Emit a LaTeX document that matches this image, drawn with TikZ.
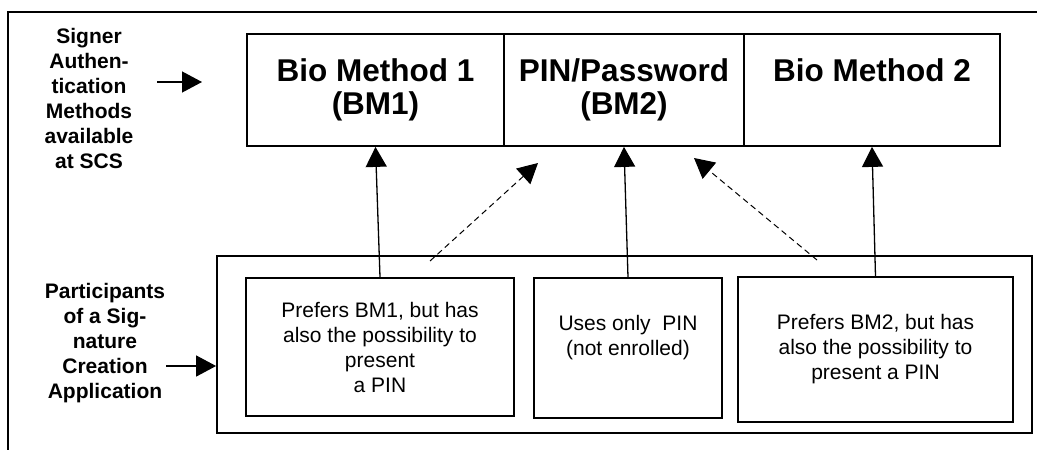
\documentclass[tikz,border=0pt]{standalone}
\usepackage{fontspec}
\setmainfont{Liberation Sans}
\usetikzlibrary{arrows.meta}
\begin{document}
\begin{tikzpicture}[x=1pt,y=-1pt]

\tikzstyle{frame}=[line width=1.8pt]
\tikzstyle{box}=[draw,line width=1.8pt,inner sep=0pt,align=center]
\tikzstyle{method}=[box,minimum height=112pt,font=\bfseries\fontsize{31.5}{33}\selectfont]
\tikzstyle{user}=[box,font=\fontsize{21}{25}\selectfont]
\tikzstyle{caption}=[align=center,font=\bfseries\fontsize{21}{25}\selectfont]
\tikzstyle{edge}=[-{Triangle[length=20pt,width=21pt]},line width=1.3pt]
\tikzstyle{option}=[edge,line width=1pt,dash pattern=on 6pt off 4pt]

\useasboundingbox(0,0)rectangle(1037,450);
\draw[frame](1037,12)--(8,12)--(8,450);

% methods at the SCS
\node[method,minimum width=257pt](bm1)at(375.5,90){Bio Method 1\\(BM1)};
\node[method,minimum width=240pt](pin)at(624,90){PIN/Password\\(BM2)};
\node[method,minimum width=256pt](bm2)at(872,90){Bio Method 2\\\phantom{(BM2)}};

% participants
\node[box,minimum width=815pt,minimum height=177pt](app)at(624.5,344.5){};
\node[user,minimum width=268pt,minimum height=138pt](p1)at(380,347){Prefers BM1, but has\\also the possibility to\\present\\a PIN};
\node[user,minimum width=188pt,minimum height=140pt](p2)at(628,348){Uses only~ PIN\\(not enrolled)\\\phantom{a}};
\node[user,minimum width=275pt,minimum height=145pt](p3)at(875.5,349.5){Prefers BM2, but has\\also the possibility to\\present a PIN};

\node[caption](scs)at(89,98){Signer\\Authen-\\tication\\Methods\\available\\at SCS};
\node[caption](sca)at(105,343){Participants\\of a Sig-\\nature\\Creation\\Application};

\coordinate(s1)at(157,82);
\coordinate(t1)at(202,82);
\coordinate(s2)at(166,366);
\coordinate(d1)at(430,261);
\coordinate(e1)at(538,163);
\coordinate(d2)at(817,260);
\coordinate(e2)at(694,158);

\draw[edge](s1)--(t1);
\draw[edge](s2)--(s2-|app.west);
\draw[edge](p1.north)--(bm1.south);
\draw[edge](p2.north)--(pin.south);
\draw[edge](p3.north)--(bm2.south);
\draw[option](d1)--(e1); % BM1 or PIN
\draw[option](d2)--(e2); % BM2 or PIN

\end{tikzpicture}
\end{document}
